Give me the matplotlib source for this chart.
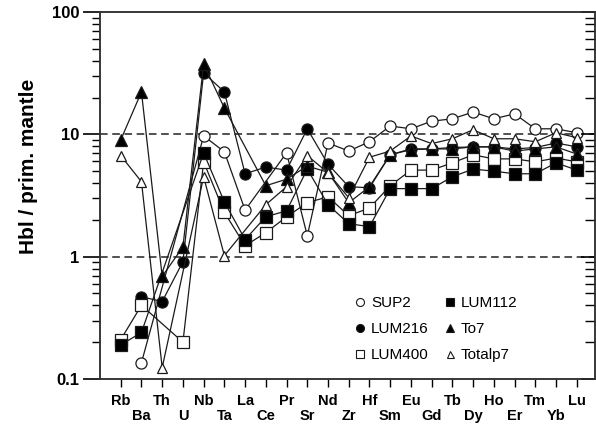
import numpy as np
import matplotlib
matplotlib.use('Agg')
from matplotlib import pyplot as plt
from matplotlib.lines import Line2D
from matplotlib.ticker import LogLocator, FixedLocator, NullFormatter

plt.rcParams['font.family'] = ['Liberation Sans', 'DejaVu Sans']

nan = np.nan
elements = ['Rb', 'Ba', 'Th', 'U', 'Nb', 'Ta', 'La', 'Ce', 'Pr', 'Sr', 'Nd', 'Zr',
            'Hf', 'Sm', 'Eu', 'Gd', 'Tb', 'Dy', 'Ho', 'Er', 'Tm', 'Yb', 'Lu']

sup2 = [nan, 0.136, nan, nan, 9.7, 7.2, 2.4, nan, 7.06, 1.48, 8.5, 7.3,
        8.7, 11.7, 11.1, 12.8, 13.4, 15.2, 13.4, 14.7, 11.1, 11.1, 10.3]
lum216 = [nan, 0.47, 0.43, 0.91, 31.8, 22.2, 4.76, 5.4, 5.1, 11.1, 5.7, 3.73,
          3.66, 6.8, 7.6, 7.6, 7.8, 7.9, 7.9, 7.6, 7.8, 8.5, 7.9]
lum400 = [0.21, 0.40, nan, 0.20, 5.96, 2.3, 1.23, 1.57, 2.12, 2.76, 3.09, 2.16,
          2.5, 3.8, 5.1, 5.1, 5.85, 6.8, 6.3, 6.3, 5.96, 6.4, 5.96]
lum112 = [0.19, 0.24, nan, nan, 7.06, 2.8, 1.38, 2.12, 2.37, 5.2, 2.66, 1.86,
          1.76, 3.6, 3.6, 3.6, 4.5, 5.2, 5.0, 4.76, 4.76, 5.85, 5.1]
to7 = [9.0, 22.2, 0.69, 1.2, 37.6, 16.4, nan, 3.8, 4.3, 5.5, 4.9, 2.76,
       3.73, 6.8, 7.5, 7.6, 7.6, 7.9, 7.9, 7.3, 7.6, 7.9, 6.9]
totalp7 = [6.7, 4.1, 0.124, nan, 4.5, 1.02, nan, 2.66, 3.73, 6.7, 4.85, 3.03,
           6.5, 7.3, 9.7, 8.4, 9.2, 10.9, 9.2, 9.2, 8.7, 10.3, 9.4]

series = [
    ('SUP2', sup2, 'o', 'white', 8),
    ('LUM216', lum216, 'o', 'black', 8),
    ('LUM400', lum400, 's', 'white', 8),
    ('LUM112', lum112, 's', 'black', 8),
    ('To7', to7, '^', 'black', 8),
    ('Totalp7', totalp7, '^', 'white', 7),
]

fig = plt.figure(figsize=(5.96, 4.29), dpi=100)
ax = fig.add_axes([100 / 596, 1 - 379 / 429, 495 / 596, 367 / 429])
ax.set_yscale('log')
ax.set_ylim(0.1, 100)
ax.set_xlim(-1, 22.88)

ax.axhline(1, color='#222222', lw=1.1, ls=(0, (5, 3)), zorder=1)
ax.axhline(10, color='#222222', lw=1.1, ls=(0, (5, 3)), zorder=1)

x = np.arange(len(elements))
handles = []
for name, vals, mk, fc, ms in series:
    v = np.array(vals, dtype=float)
    ok = ~np.isnan(v)
    ax.plot(x[ok], v[ok], color='#1a1a1a', lw=0.9, marker=mk, ms=ms,
            mfc=fc, mec='#1a1a1a', mew=0.9, zorder=3)
    handles.append(Line2D([], [], ls='none', marker=mk, ms=ms * 0.72,
                          mfc=fc, mec='#1a1a1a', mew=0.8, label=name))

leg = ax.legend(handles=handles, ncol=2, frameon=False, loc='center',
                bbox_to_anchor=(0.675, 0.136), fontsize=11, labelspacing=0.8,
                handletextpad=0.15, columnspacing=0.75, handlelength=1.2)

# x axis
ax.set_xticks(x)
ax.set_xticklabels([e if i % 2 == 0 else '\n' + e for i, e in enumerate(elements)],
                   fontsize=10.5, fontweight='bold', linespacing=1.05)
ax.tick_params(axis='x', direction='out', length=6, width=1.0, pad=5)

# y axis
ax.yaxis.set_major_locator(FixedLocator([0.1, 1, 10, 100]))
ax.yaxis.set_minor_locator(LogLocator(base=10, subs=np.arange(2, 10)))
ax.yaxis.set_minor_formatter(NullFormatter())
ax.set_yticklabels(['0.1', '1', '10', '100'], fontsize=12, fontweight='bold')
ax.tick_params(axis='y', which='major', direction='out', length=12, width=1.2, pad=3)
ax.tick_params(axis='y', which='minor', direction='out', length=6, width=1.0)
ax.set_ylabel('Hbl / prim. mantle', fontsize=15, fontweight='bold')
ax.yaxis.set_label_coords(-0.125, 0.58)

for s in ax.spines.values():
    s.set_linewidth(1.1)
    s.set_color('#333333')

ax2 = ax.twinx()
ax2.set_yscale('log')
ax2.set_ylim(0.1, 100)
ax2.yaxis.set_major_locator(FixedLocator([0.1, 1, 10, 100]))
ax2.yaxis.set_minor_locator(LogLocator(base=10, subs=np.arange(2, 10)))
ax2.yaxis.set_major_formatter(NullFormatter())
ax2.yaxis.set_minor_formatter(NullFormatter())
ax2.tick_params(axis='y', which='major', direction='in', length=10, width=1.2)
ax2.tick_params(axis='y', which='minor', direction='in', length=7, width=1.0)
for s in ax2.spines.values():
    s.set_linewidth(1.1)
    s.set_color('#333333')

fig.savefig('out.png', dpi=100)
